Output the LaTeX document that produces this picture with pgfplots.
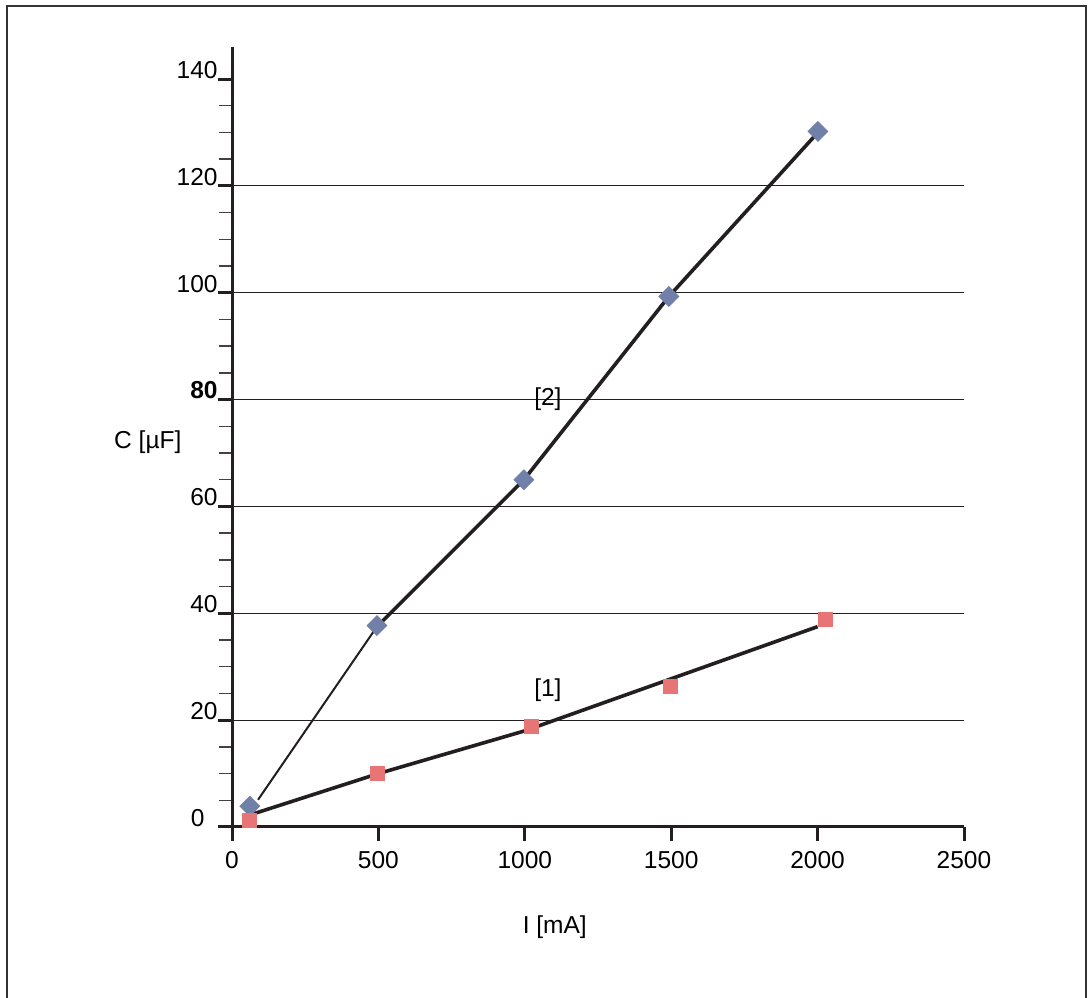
\documentclass[border=0pt]{standalone}
\usepackage{pgfplots}
\pgfplotsset{compat=1.18}
\usepackage{fontspec}
\setmainfont{Liberation Sans}
\definecolor{ink}{HTML}{231F20}
\definecolor{dblue}{HTML}{7080A8}
\definecolor{dred}{HTML}{E87575}
\begin{document}
\fontsize{12.3}{15}\selectfont
\begin{tikzpicture}
\useasboundingbox (0,0) rectangle (544bp,499bp);
\draw[line width=1bp, color=black!80] (3.5bp,0) -- (3.5bp,496bp) -- (543bp,496bp) -- (543bp,0);
\begin{axis}[
  at={(116bp,85.5bp)}, anchor=south west,
  scale only axis, width=366bp, height=390bp,
  xmin=0, xmax=2500, ymin=0, ymax=146,
  axis lines=left,
  axis line style={-, line width=1.5bp, color=ink},
  clip=false,
  /pgf/number format/assume math mode=true,
  xtick={0,500,...,2500},
  xticklabels={0,500,1000,1500,2000,2500},
  ytick={0,20,...,140},
  yticklabels={0\rule{6.5bp}{0pt},20,40,60,\textbf{80},100,120,140},
  minor y tick num=3,
  tick align=outside,
  major tick length=7bp,
  minor tick length=6.5bp,
  major tick style={line width=1.5bp, color=ink},
  minor tick style={line width=0.7bp, color=ink!85},
  yticklabel style={anchor=south east, inner sep=0pt, xshift=0bp},
  xticklabel style={anchor=north, inner sep=0pt, yshift=-5bp},
  extra y ticks={20,40,60,80,100,120},
  extra y tick labels={},
  extra y tick style={grid=major, major tick length=0pt},
  grid style={line width=0.55bp, color=ink},
  xlabel={I [mA]}, ylabel={C [µF]},
  xlabel style={at={(axis description cs:0.441,-0.128)}, anchor=center},
  ylabel style={at={(axis description cs:-0.115,0.4936)}, anchor=center, rotate=-90},
]
\addplot[only marks, mark=square*, mark size=3.5bp, mark options={rotate=45, fill=dblue, draw=dblue}]
  coordinates {(61,3.9) (495,37.7) (997,65.0) (1492,99.3) (2001,130.2)};
\addplot[only marks, mark=square*, mark size=3.5bp, mark options={fill=dred, draw=dred}]
  coordinates {(61,1.3) (495,10.1) (1021,18.9) (1496,26.4) (2025,38.8)};
\addplot[no marks, line width=1bp, color=ink] coordinates {(89,5.1) (495,37.5)};
\addplot[no marks, line width=1.8bp, color=ink] coordinates {(495,37.5) (997,65) (1492,99.3) (2001,130)};
\addplot[no marks, line width=1.8bp, color=ink] coordinates {(75,2.5) (500,10) (1000,18) (2000,37.5)};
\node at (axis cs:1079,80) {[2]};
\node at (axis cs:1079,25.7) {[1]};
\end{axis}
\end{tikzpicture}
\end{document}
